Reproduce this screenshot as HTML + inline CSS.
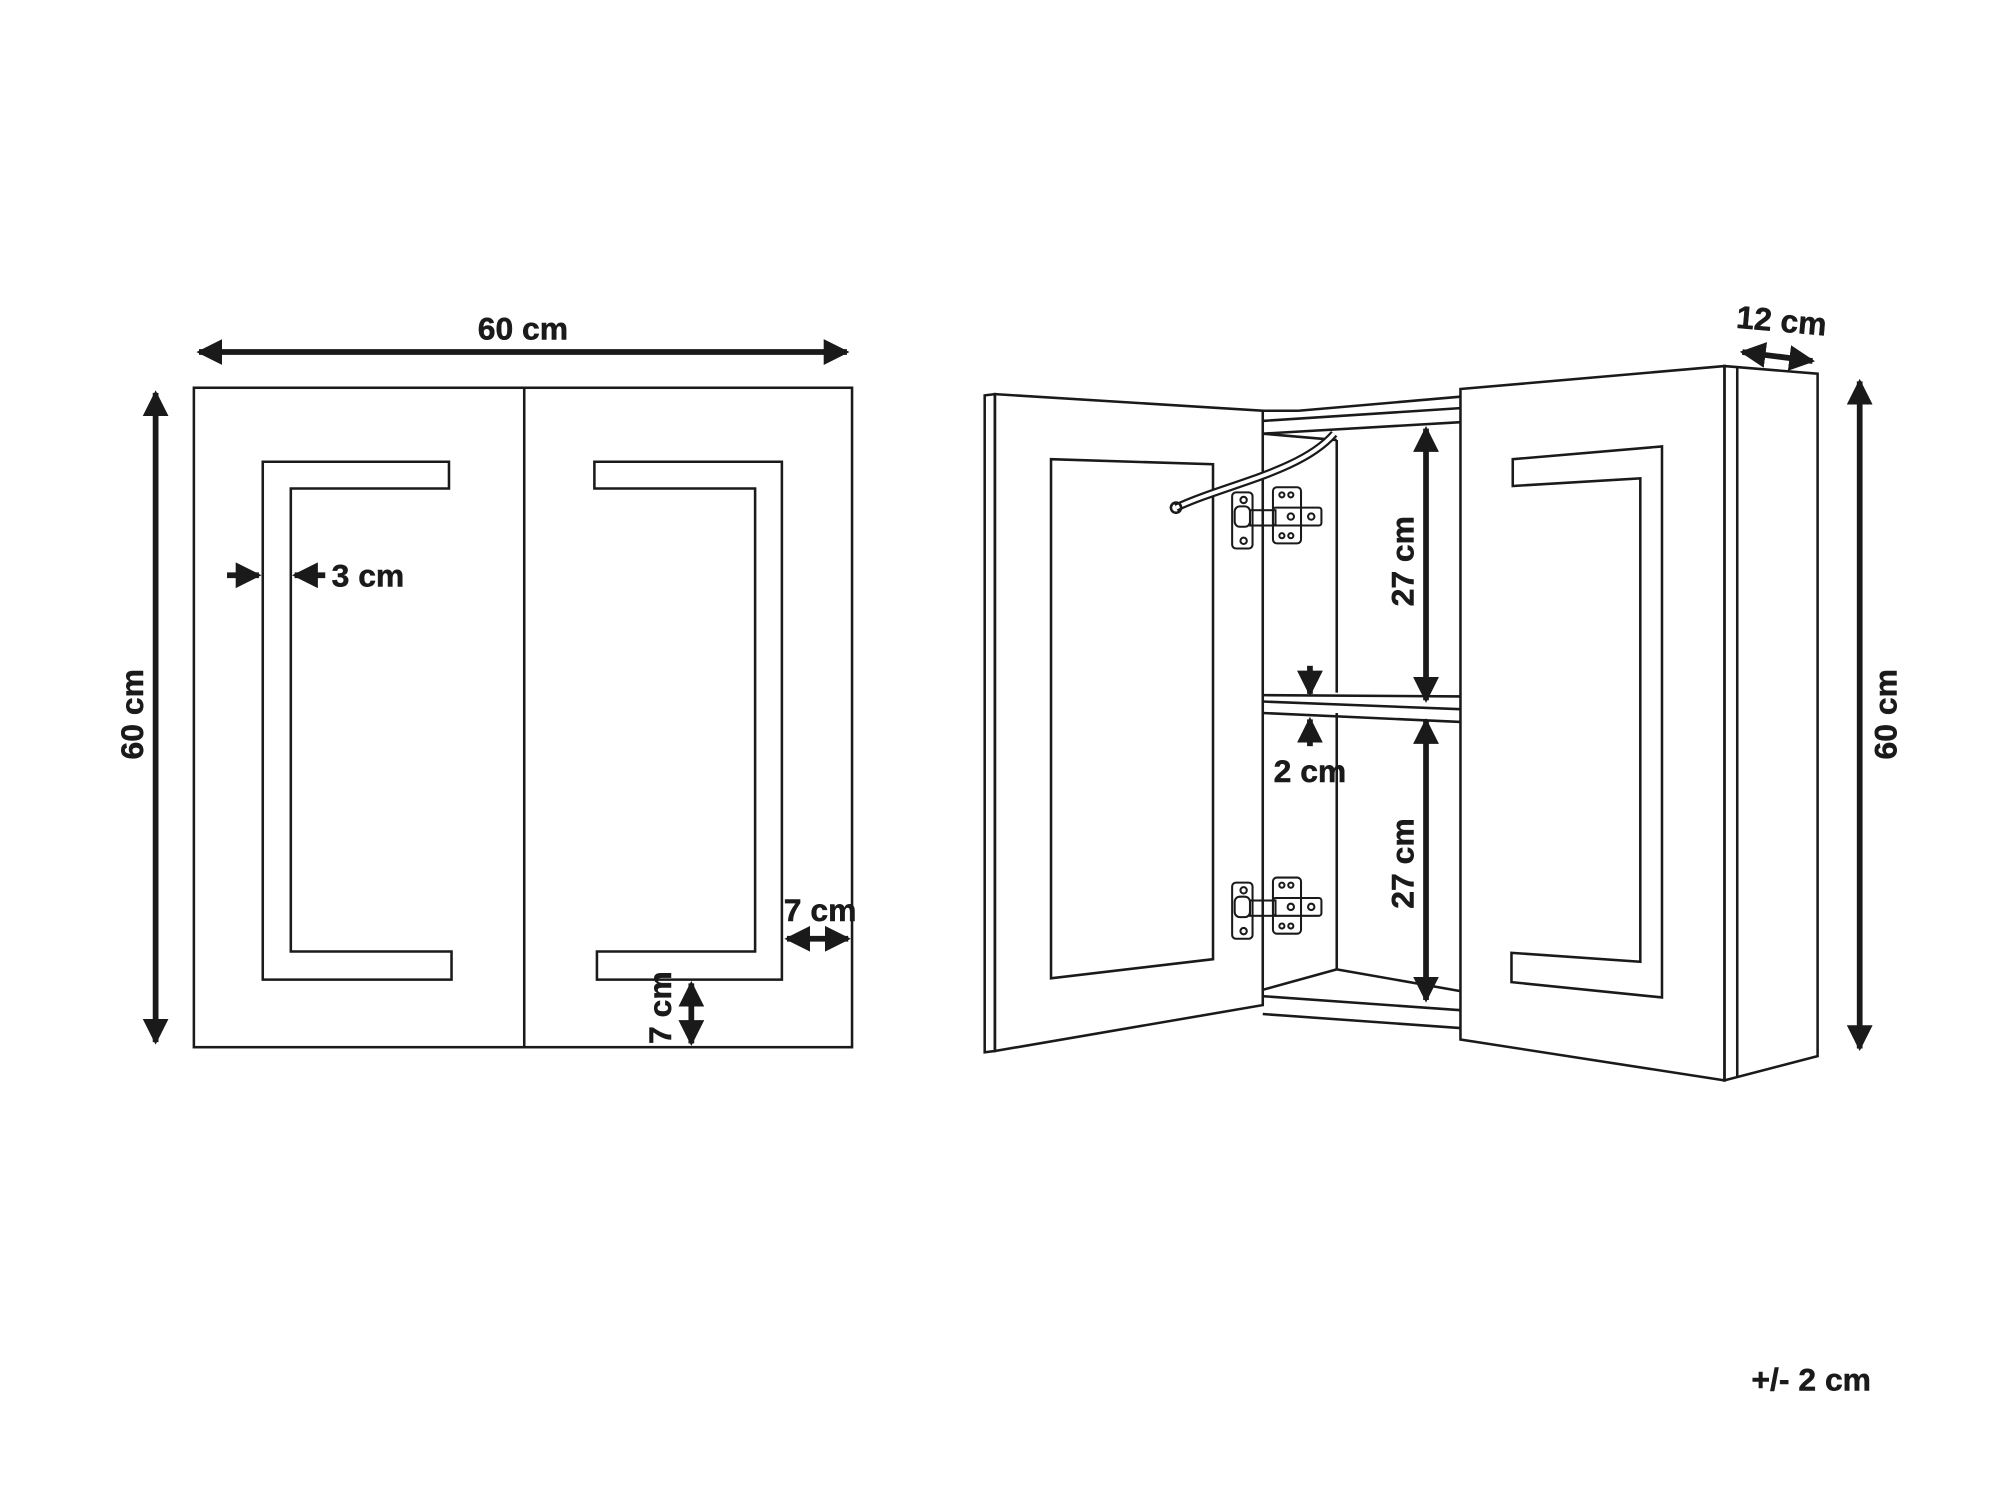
<!DOCTYPE html>
<html><head><meta charset="utf-8"><style>
html,body{margin:0;padding:0;background:#fff;}
svg{display:block;}
text{font-family:"Liberation Sans",sans-serif;font-weight:bold;font-size:25px;fill:#1a1a1a;stroke:#1a1a1a;stroke-width:0.4;}
</style></head><body>
<svg width="2000" height="1500" viewBox="0 0 1568 1176" preserveAspectRatio="none" xmlns="http://www.w3.org/2000/svg">
<defs>
<marker id="a" viewBox="0 0 10 10" refX="9" refY="5" markerWidth="4.5" markerHeight="4.5" orient="auto-start-reverse"><path d="M0,0 L10,5 L0,10 z" fill="#1a1a1a"/></marker>
</defs>
<g fill="none" stroke="#1a1a1a" stroke-width="2" stroke-linejoin="miter">
<rect x="152" y="304" width="516" height="517"/>
<line x1="411" y1="304" x2="411" y2="821"/>
<polygon points="352,362 206,362 206,768 354,768 354,746 228,746 228,383 352,383"/>
<polygon points="466,362 613,362 613,768 468,768 468,746 592,746 592,383 466,383"/>
<polygon points="772,310 780,309 780,824 772,825"/>
<polygon points="780,309 990,322 990,788 780,824"/>
<polygon points="824,360 951,364 951,752 824,767"/>
<line x1="990" y1="322" x2="1018" y2="322"/>
<line x1="1018" y1="322" x2="1145" y2="311"/>
<line x1="990" y1="330" x2="1145" y2="320"/>
<line x1="990" y1="340" x2="1145" y2="331"/>
<line x1="990" y1="340" x2="1048" y2="345"/>
<line x1="1048" y1="345" x2="1048" y2="543"/>
<line x1="1048" y1="559" x2="1048" y2="760"/>
<line x1="990" y1="545" x2="1145" y2="546"/>
<line x1="990" y1="550" x2="1145" y2="556"/>
<line x1="990" y1="559" x2="1145" y2="566"/>
<line x1="990" y1="776" x2="1048" y2="760"/>
<line x1="1048" y1="760" x2="1145" y2="777"/>
<line x1="990" y1="781" x2="1145" y2="792"/>
<line x1="990" y1="795" x2="1145" y2="806"/>
<polygon points="1145,305 1352,287 1352,847 1145,815"/>
<polygon points="1352,287 1425,293 1425,828 1352,847"/>
<line x1="1362" y1="288" x2="1362" y2="845"/>
<polygon points="1186,360 1303,350 1303,782 1185,770 1185,747 1286,754 1286,375 1186,381"/>
<path d="M922,398 C960,380 1020,370 1046,340" stroke-width="6.5"/>
<path d="M922,398 C960,380 1020,370 1046,340" stroke="#fff" stroke-width="3"/>
<circle cx="922" cy="398" r="4"/>
<g id="h" stroke-width="1.6">
<rect x="966" y="386" width="16" height="44" rx="3"/>
<circle cx="975" cy="392" r="2.5"/><circle cx="975" cy="424" r="2.5"/>
<rect x="968" y="397" width="12" height="16" rx="4"/>
<rect x="980" y="400" width="20" height="12"/>
<rect x="998" y="382" width="22" height="44" rx="3"/>
<rect x="998" y="398" width="38" height="14" rx="2"/>
<circle cx="1005" cy="388" r="2"/><circle cx="1012" cy="388" r="2"/>
<circle cx="1005" cy="420" r="2"/><circle cx="1012" cy="420" r="2"/>
<circle cx="1012" cy="405" r="2.5"/><circle cx="1028" cy="405" r="2.5"/>
</g>
<use href="#h" transform="translate(0,306)"/>
</g>
<g stroke="#1a1a1a" stroke-width="4.5" fill="none">
<line x1="156" y1="276" x2="664" y2="276" marker-start="url(#a)" marker-end="url(#a)"/>
<line x1="122" y1="308" x2="122" y2="817" marker-start="url(#a)" marker-end="url(#a)"/>
<line x1="178" y1="451" x2="203" y2="451" marker-end="url(#a)"/>
<line x1="255" y1="451" x2="231" y2="451" marker-end="url(#a)"/>
<line x1="617" y1="736" x2="665" y2="736" marker-start="url(#a)" marker-end="url(#a)"/>
<line x1="542" y1="771" x2="542" y2="818" marker-start="url(#a)" marker-end="url(#a)"/>
<line x1="1118" y1="336" x2="1118" y2="549" marker-start="url(#a)" marker-end="url(#a)"/>
<line x1="1118" y1="565" x2="1118" y2="784" marker-start="url(#a)" marker-end="url(#a)"/>
<line x1="1027" y1="522" x2="1027" y2="544" marker-end="url(#a)"/>
<line x1="1027" y1="585" x2="1027" y2="564" marker-end="url(#a)"/>
<line x1="1458" y1="299" x2="1458" y2="822" marker-start="url(#a)" marker-end="url(#a)"/>
<line x1="1366" y1="276" x2="1421" y2="283" marker-start="url(#a)" marker-end="url(#a)"/>
</g>
<text x="410" y="266" text-anchor="middle">60 cm</text>
<text transform="translate(112,560) rotate(-90)" text-anchor="middle">60 cm</text>
<text x="260" y="460">3 cm</text>
<text x="643" y="722" text-anchor="middle">7 cm</text>
<text transform="translate(526,790) rotate(-90)" text-anchor="middle">7 cm</text>
<text transform="translate(1108,440) rotate(-90)" text-anchor="middle">27 cm</text>
<text transform="translate(1108,677) rotate(-90)" text-anchor="middle">27 cm</text>
<text x="1027" y="613" text-anchor="middle">2 cm</text>
<text transform="translate(1487,560) rotate(-90)" text-anchor="middle">60 cm</text>
<text transform="translate(1396,260) rotate(5)" text-anchor="middle">12 cm</text>
<text x="1420" y="1090" text-anchor="middle">+/- 2 cm</text>
</svg>
</body></html>
